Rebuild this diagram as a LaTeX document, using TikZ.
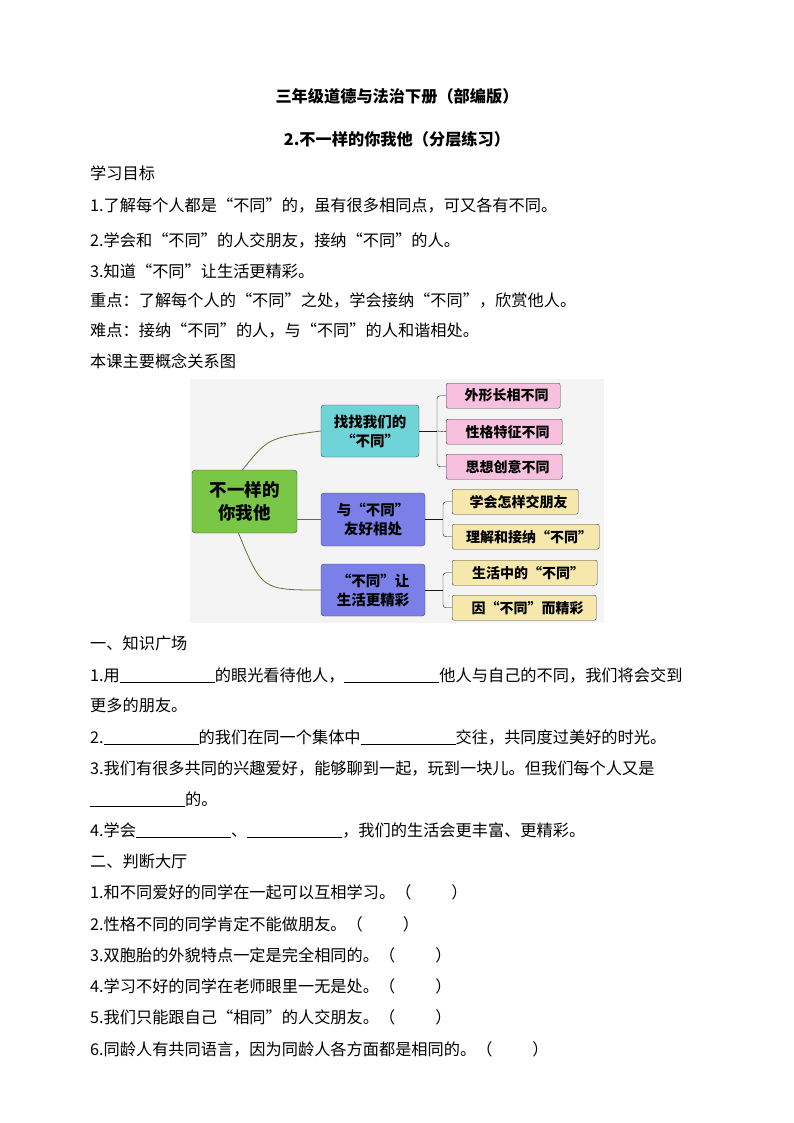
\documentclass[tikz,border=0pt]{standalone}
\usepackage{fontspec}
\newfontfamily\cjk{Noto Sans CJK SC}
\usetikzlibrary{positioning,calc}
\definecolor{rootgreen}{RGB}{122,198,70}
\definecolor{teal}{RGB}{110,212,216}
\definecolor{midblue}{RGB}{122,128,232}
\definecolor{leafpink}{RGB}{246,192,222}
\definecolor{leafyel}{RGB}{246,232,172}
\definecolor{mapbg}{RGB}{244,244,244}
\definecolor{branch}{RGB}{90,120,50}
\newcommand{\blank}{\underline{\hspace{95pt}}}
\newcommand{\paren}{（\hspace{40pt}）}
\tikzset{
  txt/.style={anchor=base west, inner sep=0pt, font=\cjk\fontsize{16.2}{18}\selectfont},
  ttl/.style={anchor=base, inner sep=0pt, font=\cjk\bfseries\fontsize{16.2}{18}\selectfont},
  mid/.style={draw=gray!60!black, rounded corners=3pt, inner sep=0pt, align=center,
              font=\cjk\bfseries\fontsize{14.5}{19}\selectfont},
  leaf/.style={draw=gray!50!black, rounded corners=2pt, inner sep=0pt, anchor=north west,
               font=\cjk\bfseries\fontsize{14}{15}\selectfont},
  br/.style={gray!20!black, thin, rounded corners=3pt},
  arm/.style={branch, thick}
}
\begin{document}
\begin{tikzpicture}[x=1pt, y=-1pt]
  \useasboundingbox[fill=white] (0,0) rectangle (794,1123);
  % Titles
  \node[ttl] (t1) at (397,103) {三年级道德与法治下册（部编版）};
  \node[ttl] (t2) at (397,146) {2.不一样的你我他（分层练习）};
  % Goals
  \node[txt] (g0) at (90,180) {学习目标};
  \node[txt] (g1) at (90,212) {1.了解每个人都是“不同”的，虽有很多相同点，可又各有不同。};
  \node[txt] (g2) at (90,246) {2.学会和“不同”的人交朋友，接纳“不同”的人。};
  \node[txt] (g3) at (90,277) {3.知道“不同”让生活更精彩。};
  \node[txt] (g4) at (90,306) {重点：了解每个人的“不同”之处，学会接纳“不同”，欣赏他人。};
  \node[txt] (g5) at (90,336) {难点：接纳“不同”的人，与“不同”的人和谐相处。};
  \node[txt] (g6) at (90,367) {本课主要概念关系图};

  % Concept map
  \fill[mapbg] (190,379) rectangle (604,623);
  \node[mid, fill=rootgreen, minimum width=105pt, minimum height=63pt,
        font=\cjk\bfseries\fontsize{17.5}{23}\selectfont] (root) at (244.5,501.5) {不一样的\\你我他};
  \node[mid, fill=teal, minimum width=98pt, minimum height=52pt] (m1) at (370,431) {找找我们的\\“不同”};
  \node[mid, fill=midblue, minimum width=104pt, minimum height=53pt] (m2) at (373,519.5) {与“不同”\\友好相处};
  \node[mid, fill=midblue, minimum width=104pt, minimum height=52pt] (m3) at (373,590) {“不同”让\\生活更精彩};

  \node[leaf, fill=leafpink, minimum width=114pt, minimum height=25pt] (p1) at (446,383) {\hspace{7pt}外形长相不同\hfill};
  \node[leaf, fill=leafpink, minimum width=116pt, minimum height=25pt] (p2) at (446,419) {\hspace{7pt}性格特征不同\hfill};
  \node[leaf, fill=leafpink, minimum width=116pt, minimum height=25pt] (p3) at (446,454) {\hspace{7pt}思想创意不同\hfill};
  \node[leaf, fill=leafyel, minimum width=126pt, minimum height=25pt] (y1) at (452,489) {\hspace{7pt}学会怎样交朋友\hfill};
  \node[leaf, fill=leafyel, minimum width=147pt, minimum height=25pt] (y2) at (452,524) {\hspace{7pt}理解和接纳“不同”\hfill};
  \node[leaf, fill=leafyel, minimum width=145pt, minimum height=25pt] (y3) at (452,560) {\hspace{7pt}生活中的“不同”\hfill};
  \node[leaf, fill=leafyel, minimum width=144pt, minimum height=25pt] (y4) at (452,595) {\hspace{7pt}因“不同”而精彩\hfill};

  % Branches from root
  \draw[arm] ($(root.north)+(-2,0)$) .. controls (268,438) .. (m1.west);
  \draw[arm] ($(root.east)+(0,18)$) -- (m2.west |- 519.5,519.5);
  \draw[arm] ($(root.south)+(-6,0)$) .. controls (262,590) .. (m3.west);

  % Brackets to leaves
  \coordinate (k1) at (437,431);
  \coordinate (k2) at (443,519.5);
  \coordinate (k3) at (443,590);
  \draw[br] (m1.east) -- (k1);
  \draw[br] (p1.west) -| (k1) |- (p3.west);
  \draw[br] (k1) -- (p2.west);
  \draw[br] (m2.east) -- (k2);
  \draw[br] (y1.west) -| (k2) |- (y2.west);
  \draw[br] (m3.east) -- (k3);
  \draw[br] (y3.west) -| (k3) |- (y4.west);

  % Section one
  \node[txt] (s1) at (90,649) {一、知识广场};
  \node[txt] (a1) at (90,681) {1.用\blank 的眼光看待他人，\blank 他人与自己的不同，我们将会交到};
  \node[txt] (a1b) at (90,711) {更多的朋友。};
  \node[txt] (a2) at (90,743) {2.\blank 的我们在同一个集体中\blank 交往，共同度过美好的时光。};
  \node[txt] (a3) at (90,774) {3.我们有很多共同的兴趣爱好，能够聊到一起，玩到一块儿。但我们每个人又是};
  \node[txt] (a3b) at (90,805) {\blank 的。};
  \node[txt] (a4) at (90,836) {4.学会\blank 、\blank ，我们的生活会更丰富、更精彩。};

  % Section two
  \node[txt] (s2) at (90,867) {二、判断大厅};
  \node[txt] (b1) at (90,898) {1.和不同爱好的同学在一起可以互相学习。\paren};
  \node[txt] (b2) at (90,930) {2.性格不同的同学肯定不能做朋友。\paren};
  \node[txt] (b3) at (90,961) {3.双胞胎的外貌特点一定是完全相同的。\paren};
  \node[txt] (b4) at (90,992) {4.学习不好的同学在老师眼里一无是处。\paren};
  \node[txt] (b5) at (90,1023) {5.我们只能跟自己“相同”的人交朋友。\paren};
  \node[txt] (b6) at (90,1055) {6.同龄人有共同语言，因为同龄人各方面都是相同的。\paren};
\end{tikzpicture}
\end{document}
